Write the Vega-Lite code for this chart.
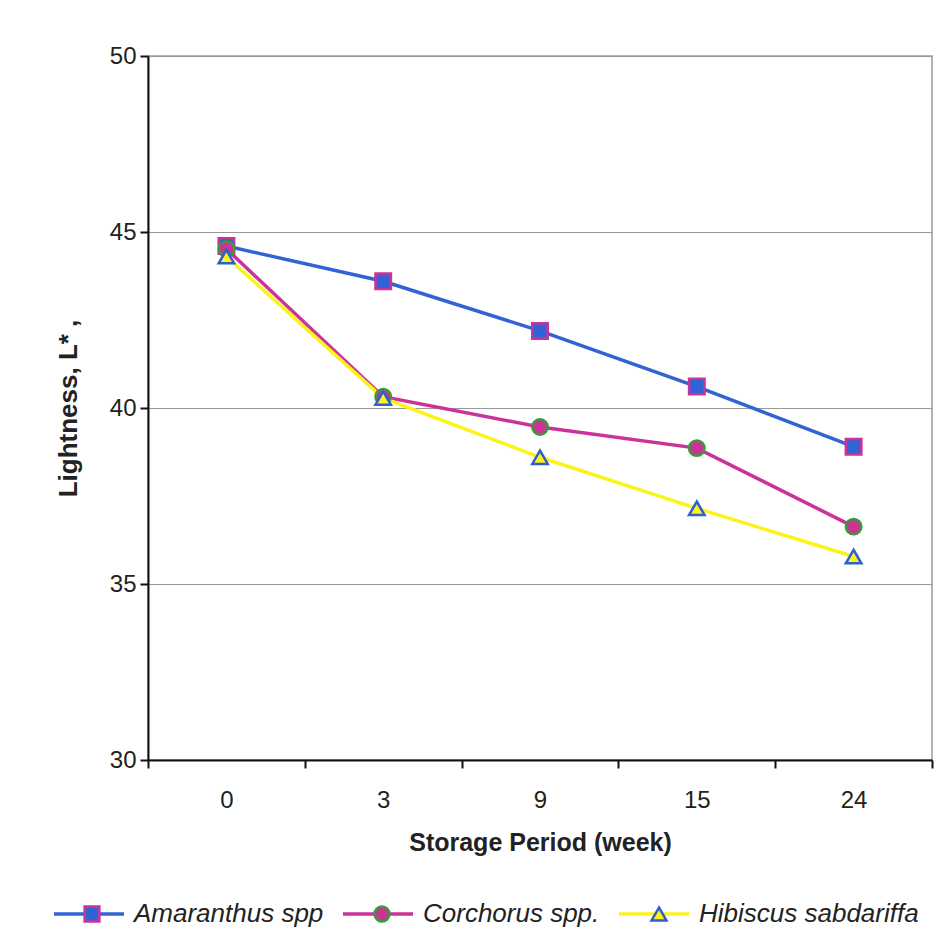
{
  "$schema": "https://vega.github.io/schema/vega-lite/v6.json",
  "autosize": {"type": "none"},
  "width": 784,
  "height": 704,
  "padding": {"left": 148, "top": 56, "right": 16, "bottom": 176},
  "background": "white",
  "config": {
    "font": "Liberation Sans",
    "view": {"stroke": "#9a9a9a", "strokeWidth": 1.5},
    "axis": {
      "labelFont": "Liberation Sans",
      "titleFont": "Liberation Sans",
      "labelColor": "#222222",
      "titleColor": "#222222",
      "domainColor": "#111111",
      "domainWidth": 2,
      "tickColor": "#111111",
      "tickWidth": 2
    },
    "legend": {"labelFont": "Liberation Sans"}
  },
  "data": {
    "values": [
      {"week": "0", "species": "Amaranthus spp", "L": 44.6},
      {"week": "3", "species": "Amaranthus spp", "L": 43.6},
      {"week": "9", "species": "Amaranthus spp", "L": 42.19},
      {"week": "15", "species": "Amaranthus spp", "L": 40.61},
      {"week": "24", "species": "Amaranthus spp", "L": 38.9},
      {"week": "0", "species": "Corchorus spp.", "L": 44.52},
      {"week": "3", "species": "Corchorus spp.", "L": 40.32},
      {"week": "9", "species": "Corchorus spp.", "L": 39.46},
      {"week": "15", "species": "Corchorus spp.", "L": 38.86},
      {"week": "24", "species": "Corchorus spp.", "L": 36.63},
      {"week": "0", "species": "Hibiscus sabdariffa", "L": 44.3},
      {"week": "3", "species": "Hibiscus sabdariffa", "L": 40.28},
      {"week": "9", "species": "Hibiscus sabdariffa", "L": 38.6},
      {"week": "15", "species": "Hibiscus sabdariffa", "L": 37.15},
      {"week": "24", "species": "Hibiscus sabdariffa", "L": 35.78}
    ]
  },
  "encoding": {
    "x": {
      "field": "week",
      "type": "ordinal",
      "sort": ["0", "3", "9", "15", "24"],
      "scale": {"type": "band", "paddingInner": 0, "paddingOuter": 0},
      "axis": {
        "title": "Storage Period (week)",
        "titleFontSize": 25,
        "titleFontWeight": "bold",
        "titlePadding": 18,
        "labelFontSize": 24,
        "labelAngle": 0,
        "labelPadding": 20,
        "tickBand": "extent",
        "tickSize": 8,
        "grid": false
      }
    },
    "y": {
      "field": "L",
      "type": "quantitative",
      "scale": {"domain": [30, 50], "nice": false, "zero": false},
      "axis": {
        "title": "Lightness, L* ,",
        "titleFontSize": 26,
        "titleFontWeight": "bold",
        "titlePadding": 28,
        "labelFontSize": 24,
        "labelPadding": 4,
        "values": [30, 35, 40, 45, 50],
        "tickSize": 8,
        "grid": true,
        "gridColor": "#999999",
        "gridWidth": 1.2
      }
    }
  },
  "layer": [
    {
      "mark": {"type": "line", "strokeWidth": 3.5},
      "encoding": {
        "color": {
          "field": "species",
          "type": "nominal",
          "scale": {
            "domain": ["Amaranthus spp", "Corchorus spp.", "Hibiscus sabdariffa"],
            "range": ["#3163d4", "#cc3399", "#fcf31c"]
          },
          "legend": {
            "title": null,
            "orient": "none",
            "direction": "horizontal",
            "legendX": -96,
            "legendY": 821,
            "symbolType": "stroke",
            "symbolSize": 4900,
            "symbolStrokeWidth": 3.5,
            "labelFontSize": 26,
            "labelFontStyle": "italic",
            "labelColor": "#222222",
            "labelOffset": 8,
            "columnPadding": 12,
            "labelLimit": 400,
            "zindex": 1
          }
        }
      }
    },
    {
      "mark": {"type": "point", "filled": true, "size": 240, "strokeWidth": 2.5, "opacity": 1},
      "encoding": {
        "shape": {
          "field": "species",
          "type": "nominal",
          "scale": {"range": ["square", "circle", "triangle-up"]},
          "legend": {
            "title": null,
            "orient": "none",
            "direction": "horizontal",
            "legendX": -69,
            "legendY": 845,
            "symbolSize": 220,
            "symbolStrokeWidth": 2.5,
            "labelFontSize": 26,
            "labelFontStyle": "italic",
            "labelOpacity": 0,
            "labelOffset": 36,
            "columnPadding": 38,
            "labelLimit": 400,
            "zindex": 2
          }
        },
        "fill": {
          "field": "species",
          "type": "nominal",
          "scale": {"range": ["#3163d4", "#cc3399", "#fcf31c"]},
          "legend": {
            "title": null,
            "orient": "none",
            "direction": "horizontal",
            "legendX": -69,
            "legendY": 845,
            "symbolSize": 220,
            "symbolStrokeWidth": 2.5,
            "labelFontSize": 26,
            "labelFontStyle": "italic",
            "labelOpacity": 0,
            "labelOffset": 36,
            "columnPadding": 38,
            "labelLimit": 400,
            "zindex": 2
          }
        },
        "stroke": {
          "field": "species",
          "type": "nominal",
          "scale": {"range": ["#cc3399", "#3a9a3a", "#2f5fd0"]},
          "legend": {
            "title": null,
            "orient": "none",
            "direction": "horizontal",
            "legendX": -69,
            "legendY": 845,
            "symbolSize": 220,
            "symbolStrokeWidth": 2.5,
            "labelFontSize": 26,
            "labelFontStyle": "italic",
            "labelOpacity": 0,
            "labelOffset": 36,
            "columnPadding": 38,
            "labelLimit": 400,
            "zindex": 2
          }
        }
      }
    }
  ]
}
